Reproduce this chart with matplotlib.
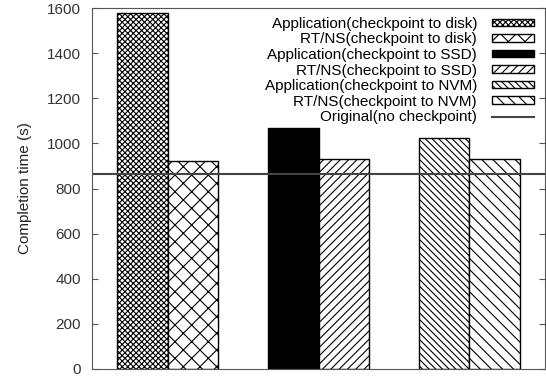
import matplotlib.pyplot as plt
import numpy as np

plt.rcParams['font.family'] = ['Liberation Sans', 'DejaVu Sans']
plt.rcParams['hatch.linewidth'] = 0.8

# completion time per storage target (disk, SSD, NVM)
targets = ['disk', 'SSD', 'NVM']
app_times = [1580, 1070, 1026]
rtns_times = [924, 929, 929]
original_time = 866

app_labels = ['Application(checkpoint to disk)', 'Application(checkpoint to SSD)',
              'Application(checkpoint to NVM)']
rtns_labels = ['RT/NS(checkpoint to disk)', 'RT/NS(checkpoint to SSD)',
               'RT/NS(checkpoint to NVM)']
app_style = [('white', 'xxxxxx'), ('black', ''), ('white', '\\\\\\\\\\')]
rtns_style = [('white', 'xx'), ('white', '////'), ('white', '\\\\\\')]

fig = plt.figure(figsize=(5.46, 3.77), dpi=100)
ax = fig.add_axes([92 / 546, 8 / 377, 453 / 546, 361 / 377])

w = 1 / 3
x = np.arange(len(targets))
for i in range(len(targets)):
    fc, h = app_style[i]
    ax.bar(x[i] - w / 2, app_times[i], w, color=fc, edgecolor='black',
           hatch=h, linewidth=1, label=app_labels[i])
    fc, h = rtns_style[i]
    ax.bar(x[i] + w / 2, rtns_times[i], w, color=fc, edgecolor='black',
           hatch=h, linewidth=1, label=rtns_labels[i])

ax.axhline(original_time, color='#444444', linewidth=1.5,
           label='Original(no checkpoint)')

ax.set_xlim(-0.5, 2.5)
ax.set_ylim(0, 1600)
ax.set_yticks(range(0, 1601, 200))
ax.set_xticks([])
ax.tick_params(axis='y', direction='in', length=4, colors='#555555',
               labelcolor='#333333', labelsize=11, pad=8, right=True)
for s in ax.spines.values():
    s.set_color('#555555')
ax.set_ylabel('Completion time (s)', fontsize=11, color='#222222', labelpad=11)

# legend: data series first, reference line last
handles, labels = ax.get_legend_handles_labels()
order = [1, 2, 3, 4, 5, 6, 0]
ax.legend([handles[i] for i in order], [labels[i] for i in order],
          loc='upper right', frameon=False, markerfirst=False,
          fontsize=11, handlelength=2.7, handleheight=0.35,
          labelspacing=0.1, borderaxespad=0.75, handletextpad=1.0,
          borderpad=0.0, bbox_to_anchor=(1.0, 1.007))

fig.savefig('out.png', dpi=100)
